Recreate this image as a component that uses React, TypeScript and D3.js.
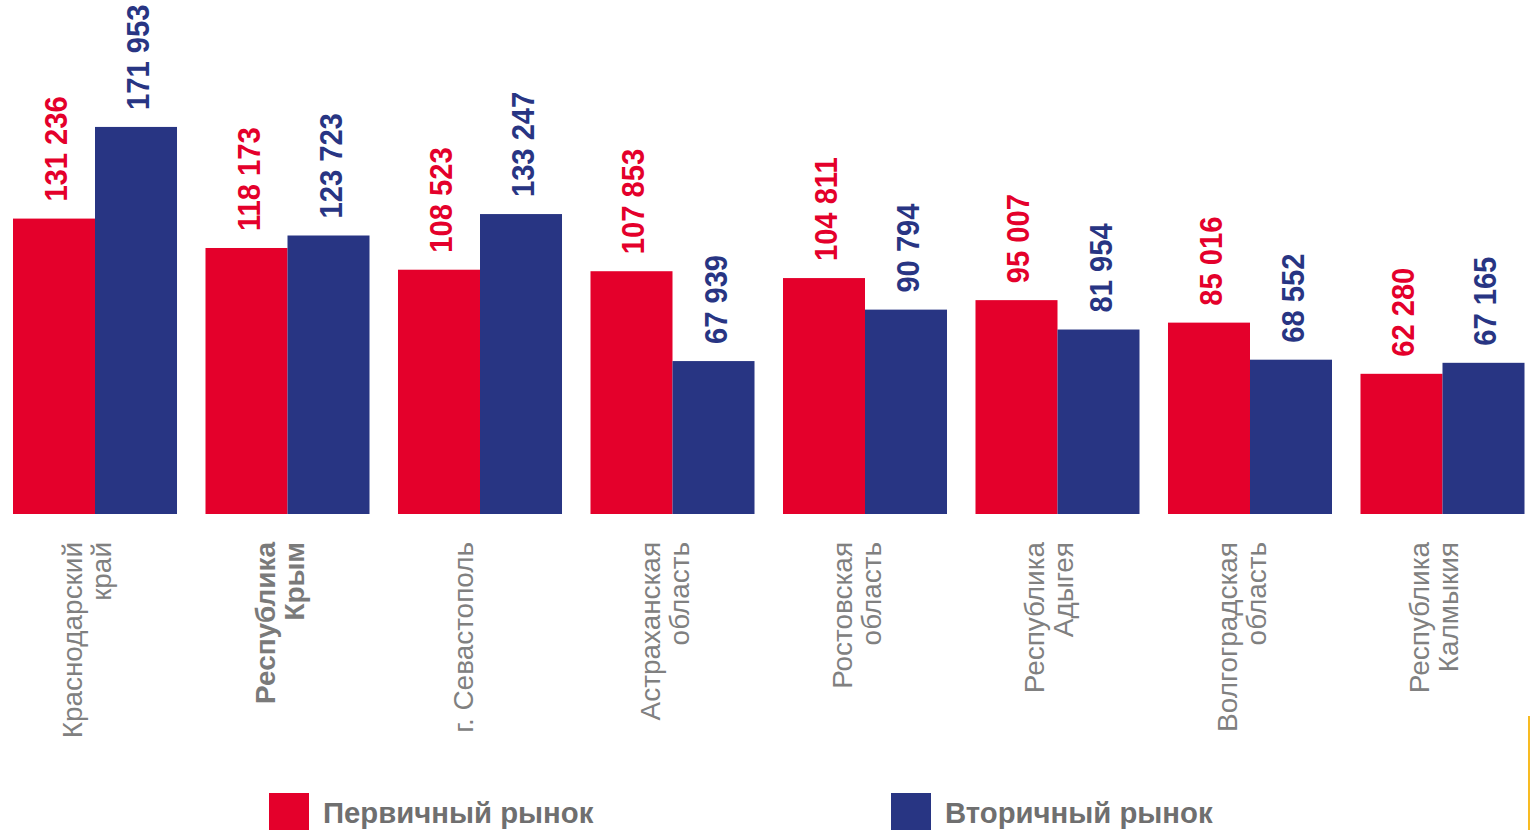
import React from "react";
import * as d3 from "d3";

const regions = [
    ["Краснодарский", "край"],
    ["Республика", "Крым"],
    ["г. Севастополь"],
    ["Астраханская", "область"],
    ["Ростовская", "область"],
    ["Республика", "Адыгея"],
    ["Волгоградская", "область"],
    ["Республика", "Калмыкия"],
];
const boldRegion = 1;
const primary = [131236, 118173, 108523, 107853, 104811, 95007, 85016, 62280];
const secondary = [171953, 123723, 133247, 67939, 90794, 81954, 68552, 67165];
const seriesNames = ["Первичный рынок", "Вторичный рынок"];

const RED = "#e4002b";
const BLUE = "#283583";
const colors = [RED, BLUE];
const FONT = "'Liberation Sans', Arial, sans-serif";

const W = 1532;
const H = 830;

const fmt = (v) => d3.format(",")(v).replace(/,/g, " ");

export default function App() {
    const keys = regions.map((_, i) => String(i));
    const x = d3.scaleBand().domain(keys).range([13, 1524.5]).paddingInner(0.148).paddingOuter(0);
    const xs = d3.scaleBand().domain(["0", "1"]).range([0, x.bandwidth()]);
    const y = d3.scaleLinear().domain([0, 200000]).range([514, 514 - 200000 * 0.002251]);

    const series = [primary, secondary];

    return (
        <svg width={W} height={H} style={{ position: "absolute", left: 0, top: 0, background: "#fff" }} fontFamily={FONT}>
            {/* bars */}
            {series.map((vals, s) => (
                <g key={s}>
                    {vals.map((v, i) => (
                        <rect key={i}
                            x={x(String(i)) + xs(String(s))}
                            y={y(v)}
                            width={xs.bandwidth()}
                            height={y(0) - y(v)}
                            fill={colors[s]} />
                    ))}
                </g>
            ))}
            {/* value labels */}
            {series.map((vals, s) => (
                <g key={"l" + s}>
                    {vals.map((v, i) => {
                        const cx = x(String(i)) + xs(String(s)) + xs.bandwidth() / 2 + 13;
                        const cy = y(v) - 17;
                        return (
                            <text key={i}
                                transform={`translate(${cx},${cy}) rotate(-90) scale(0.94,1)`}
                                fill={colors[s]} fontSize="31" fontWeight="bold">
                                {fmt(v)}
                            </text>
                        );
                    })}
                </g>
            ))}
            {/* category labels */}
            {regions.map((lines, i) => {
                const c = x(String(i)) + x.bandwidth() / 2;
                const offs = lines.length === 1 ? [-7] : [-13, 16];
                return (
                    <g key={"c" + i}>
                        {lines.map((ln, j) => (
                            <text key={j}
                                transform={`translate(${c + offs[j]},542) rotate(-90) scale(0.98,1)`}
                                textAnchor="end"
                                fill={i === boldRegion ? "#7a7a7a" : "#808080"}
                                fontWeight={i === boldRegion ? "bold" : "normal"}
                                fontSize="28.5">
                                {ln}
                            </text>
                        ))}
                    </g>
                );
            })}
            {/* legend */}
            {seriesNames.map((n, s) => {
                const lx = s === 0 ? 269 : 891;
                return (
                    <g key={"lg" + s}>
                        <rect x={lx} y={793} width={40} height={40} fill={colors[s]} />
                        <text x={lx + 54} y={823} fill="#6f6f6f" fontSize="29.3" fontWeight="bold">{n}</text>
                    </g>
                );
            })}
            <line x1={1529} x2={1529} y1={716} y2={830} stroke="#f8bb22" strokeWidth={2} />
        </svg>
    );
}
